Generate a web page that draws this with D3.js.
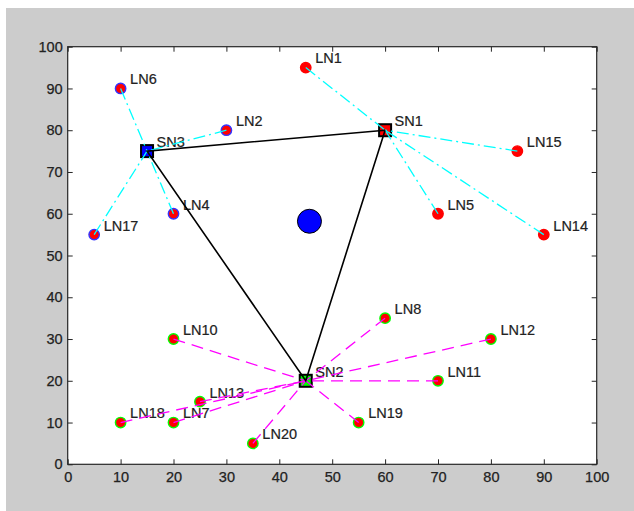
<!DOCTYPE html>
<html>
<head>
<meta charset="utf-8">
<script src="https://cdn.jsdelivr.net/npm/d3@7"></script>
<style>
  html, body { margin: 0; padding: 0; background: #ffffff; }
  svg { display: block; }
  text { font-family: "Liberation Sans", Arial, Helvetica, sans-serif; }
</style>
</head>
<body>
<svg id="chart" width="634" height="511"></svg>
<script>
// ---- Data ----
const sinkNames = ["SN1", "SN2", "SN3"];
const sinkX = [60, 45, 15];
const sinkY = [80, 20, 75];
const sinkFill = ["#ff0000", "#00ff00", "#0000ff"];
const linkColor = ["#00ffff", "#ff00ff", "#00ffff"];
const linkDash = ["12,4,2,4", "12,7", "12,4,2,4"];
const nodeEdge = ["#ff0000", "#00ff00", "#3333ff"];

const nodeNames = ["LN1","LN2","LN4","LN5","LN6","LN7","LN8","LN10","LN11","LN12","LN13","LN14","LN15","LN17","LN18","LN19","LN20"];
const nodeX =     [45,   30,   20,   70,   10,   20,   60,   20,    70,    80,    25,    90,    85,    5,     10,    55,    35];
const nodeY =     [95,   80,   60,   60,   90,   10,   35,   30,    20,    30,    15,    55,    75,    55,    10,    10,    5];
const nodeSink =  [0,    2,    2,    0,    2,    1,    1,    1,     1,     1,     1,     0,     0,     2,     1,     1,     1];

const centerX = [45.7];
const centerY = [58.2];

const xTicks = [0,10,20,30,40,50,60,70,80,90,100];
const yTicks = [0,10,20,30,40,50,60,70,80,90,100];

// ---- Layout ----
const svg = d3.select("#chart");
const W = 634, H = 511;
const plot = { left: 67.7, right: 596.7, top: 46.7, bottom: 464.3 };

const x = d3.scaleLinear().domain([0, 100]).range([plot.left, plot.right]);
const y = d3.scaleLinear().domain([0, 100]).range([plot.bottom, plot.top]);

// figure background
svg.append("rect").attr("x", 6).attr("y", 8).attr("width", W - 6).attr("height", H - 8).attr("fill", "#cccccc");
// axes background
svg.append("rect").attr("x", plot.left).attr("y", plot.top)
  .attr("width", plot.right - plot.left).attr("height", plot.bottom - plot.top).attr("fill", "#ffffff");

const fontSize = "14.5px";
const textColor = "#222222";

// axes
const gx = svg.append("g").attr("transform", `translate(0,${plot.bottom})`)
  .call(d3.axisBottom(x).tickValues(xTicks).tickSize(-5).tickSizeOuter(0).tickPadding(7).tickFormat(d3.format("d")));
const gy = svg.append("g").attr("transform", `translate(${plot.left},0)`)
  .call(d3.axisLeft(y).tickValues(yTicks).tickSize(-5).tickSizeOuter(0).tickPadding(5).tickFormat(d3.format("d")));
const gxt = svg.append("g").attr("transform", `translate(0,${plot.top})`)
  .call(d3.axisTop(x).tickValues(xTicks).tickSize(-5).tickSizeOuter(0).tickFormat(""));
const gyr = svg.append("g").attr("transform", `translate(${plot.right},0)`)
  .call(d3.axisRight(y).tickValues(yTicks).tickSize(-5).tickSizeOuter(0).tickFormat(""));

[gx, gy, gxt, gyr].forEach(g => {
  g.select(".domain").remove();
  g.selectAll("line").attr("stroke", "#262626").attr("stroke-width", 1);
  g.selectAll("text").attr("fill", textColor).style("font-size", fontSize)
    .style("font-family", "'Liberation Sans', Arial, sans-serif")
    .attr("stroke", textColor).attr("stroke-width", 0.25);
});

// frame
svg.append("rect").attr("x", plot.left).attr("y", plot.top)
  .attr("width", plot.right - plot.left).attr("height", plot.bottom - plot.top)
  .attr("fill", "none").attr("stroke", "#262626").attr("stroke-width", 1.2);

const nodes = nodeNames.map((n, i) => ({ name: n, x: nodeX[i], y: nodeY[i], s: nodeSink[i] }));
const sinks = sinkNames.map((n, i) => ({ name: n, x: sinkX[i], y: sinkY[i], i }));

// node markers
svg.append("g").selectAll("circle").data(nodes).join("circle")
  .attr("cx", d => x(d.x)).attr("cy", d => y(d.y)).attr("r", 5.2)
  .attr("fill", "#ff0000").attr("stroke", d => nodeEdge[d.s]).attr("stroke-width", 1.4);

// sink markers
const sq = 12;
svg.append("g").selectAll("rect").data(sinks).join("rect")
  .attr("x", d => x(d.x) - sq / 2).attr("y", d => y(d.y) - sq / 2)
  .attr("width", sq).attr("height", sq)
  .attr("fill", d => sinkFill[d.i]).attr("stroke", "#000").attr("stroke-width", 2);

// labels
const labels = nodes.map(d => ({ name: d.name, x: d.x, y: d.y }))
  .concat(sinks.map(d => ({ name: d.name, x: d.x, y: d.y })));
svg.append("g").selectAll("text").data(labels).join("text")
  .attr("x", d => x(d.x + 1.8)).attr("y", d => y(d.y + 2.2))
  .attr("dy", "0.35em")
  .attr("fill", textColor).attr("stroke", textColor).attr("stroke-width", 0.2)
  .style("font-size", fontSize)
  .text(d => d.name);

// links
svg.append("g").selectAll("line").data(nodes).join("line")
  .attr("x1", d => x(d.x)).attr("y1", d => y(d.y))
  .attr("x2", d => x(sinkX[d.s])).attr("y2", d => y(sinkY[d.s]))
  .attr("stroke", d => linkColor[d.s]).attr("stroke-width", 1.3)
  .attr("stroke-dasharray", d => linkDash[d.s]);

// triangle between sinks
const tri = [0, 1, 2, 0].map(i => [sinkX[i], sinkY[i]]);
svg.append("path")
  .attr("d", d3.line().x(d => x(d[0])).y(d => y(d[1]))(tri))
  .attr("fill", "none").attr("stroke", "#000").attr("stroke-width", 1.6);

// centre point
svg.append("circle").attr("cx", x(centerX[0])).attr("cy", y(centerY[0])).attr("r", 12)
  .attr("fill", "#0000ff").attr("stroke", "#000").attr("stroke-width", 1);
</script>
</body>
</html>
